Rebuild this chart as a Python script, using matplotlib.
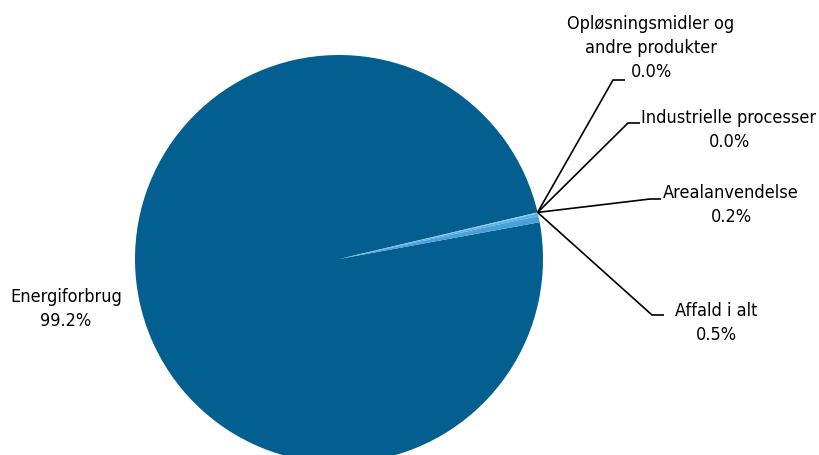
import numpy as np
import matplotlib.pyplot as plt

# shares in percent
labels = ['Energiforbrug', 'Affald i alt', 'Arealanvendelse',
          'Industrielle processer', 'Opløsningsmidler og\nandre produkter']
values = [99.2, 0.5, 0.2, 0.04, 0.04]
colors = ['#025f8f', '#4aa0da', '#5aaee3', '#6bb8e8', '#7cc2ec']

plt.rcParams['font.family'] = ['Liberation Sans Narrow', 'DejaVu Sans']
plt.rcParams['font.stretch'] = 'condensed'

W, H = 819, 455
cx, cy, R = 339, 259, 204   # pie centre / radius in pixels

fig = plt.figure(figsize=(W / 100, H / 100), dpi=100)
ax = fig.add_axes([0, 0, 1, 1])

start = 13.2
wedges, _ = ax.pie(values, colors=colors, radius=R, startangle=start,
                   counterclock=True, wedgeprops=dict(linewidth=0))
ax.set_xlim(-cx, W - cx)
ax.set_ylim(-(H - cy), cy)
ax.set_aspect('equal')
ax.axis('off')

# all leaders start at the edge of the first (big) wedge
th = np.deg2rad(start)
ax0, ay0 = R * np.cos(th), R * np.sin(th)

def px(x, y):
    return x - cx, cy - y

# (label index, elbow px, end px, text centre px)
layout = [
    (1, (652, 315), (664, 315), (716, 323)),
    (2, (650, 199), (661, 199), (731, 205)),
    (3, (628, 123), (640, 123), (729, 130)),
    (4, (613, 80), (625, 80), (651, 48)),
]
fs = 13
for i, elbow, end, tpos in layout:
    ex, ey = px(*elbow)
    fx, fy = px(*end)
    ax.plot([ax0, ex, fx], [ay0, ey, fy], color='black', lw=1.2,
            solid_capstyle='butt')
    tx, ty = px(*tpos)
    ax.text(tx, ty, f'{labels[i]}\n{values[i]:.1f}%', ha='center',
            va='center', fontsize=fs, linespacing=1.4)

tx, ty = px(66, 309)
ax.text(tx, ty, f'{labels[0]}\n{values[0]:.1f}%', ha='center', va='center',
        fontsize=fs, linespacing=1.4)

fig.savefig('out.png', dpi=100)
